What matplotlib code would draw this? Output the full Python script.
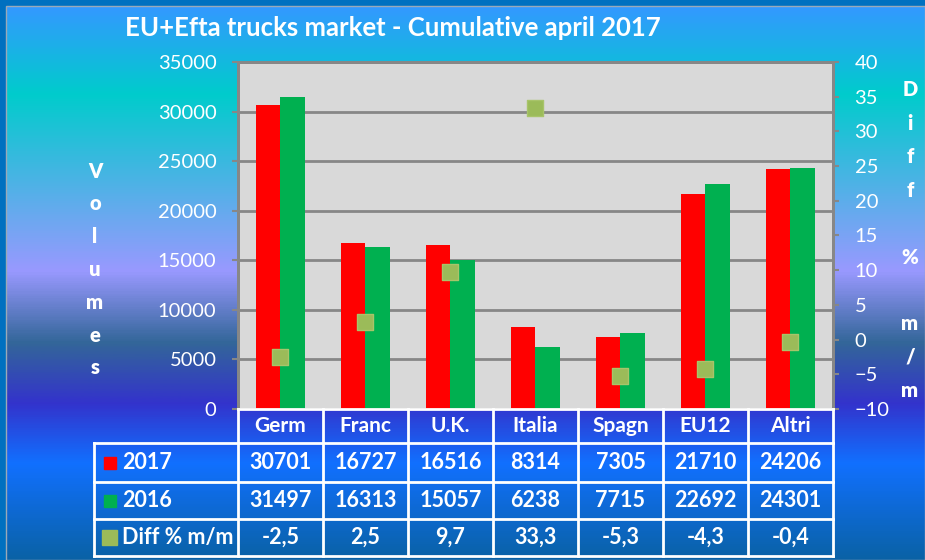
import numpy as np
import matplotlib.pyplot as plt
from matplotlib.colors import LinearSegmentedColormap
from matplotlib.patches import Rectangle

plt.rcParams['font.family'] = ['Lato', 'DejaVu Sans']

# data
categories = ['Germ', 'Franc', 'U.K.', 'Italia', 'Spagn', 'EU12', 'Altri']
vol_2017 = [30701, 16727, 16516, 8314, 7305, 21710, 24206]
vol_2016 = [31497, 16313, 15057, 6238, 7715, 22692, 24301]
diff_pct = [-2.5, 2.5, 9.7, 33.3, -5.3, -4.3, -0.4]
diff_labels = ['-2,5', '2,5', '9,7', '33,3', '-5,3', '-4,3', '-0,4']
row_names = ['2017', '2016', 'Diff % m/m']
row_colors = ['#ff0000', '#00b050', '#9bbb59']

W, H = 925, 560
fig = plt.figure(figsize=(W / 100, H / 100), dpi=100)
fig.patch.set_facecolor('#0070c0')

# gradient background
top = 6
stops = [(6, '#3399ff'), (93, '#00cccc'), (271, '#9999ff'), (343, '#336699'),
         (404, '#3333cc'), (464, '#1170ff'), (560, '#0a62a6')]
cmap = LinearSegmentedColormap.from_list(
    'bg', [((y - top) / (H - top), c) for y, c in stops])
bg = fig.add_axes([top / W, 0, 1 - top / W, 1 - top / H], zorder=-10)
bg.imshow(np.linspace(0, 1, 600).reshape(-1, 1), aspect='auto', cmap=cmap,
          extent=[0, 1, 0, 1])
bg.axis('off')
fig.add_artist(Rectangle((top / W, 0), 1 - top / W, 1 - top / H, transform=fig.transFigure,
                         fill=False, edgecolor='#9aa9b8', lw=1, zorder=-5))

# main chart
L, R, T, B = 238, 833, 62, 409
ax = fig.add_axes([L / W, 1 - B / H, (R - L) / W, (B - T) / H])
ax.set_facecolor('#d9d9d9')
x = np.arange(len(categories))
w = 0.29
ax.bar(x - w / 2, vol_2017, w, color='#ff0000', zorder=2)
ax.bar(x + w / 2, vol_2016, w, color='#00b050', zorder=2)
ax.set_xlim(-0.5, len(categories) - 0.5)
ax.set_ylim(0, 35000)
ax.set_yticks(range(0, 35001, 5000))
ax.set_xticks([])
ax.grid(axis='y', color='#878787', lw=2)
ax.set_axisbelow(True)
ax.tick_params(axis='y', color='#878787', labelcolor='white', length=4.5, width=1.5,
               labelsize=14.5, pad=11)
for s in ['left', 'right', 'top']:
    ax.spines[s].set_color('#878787')
    ax.spines[s].set_linewidth(2)
ax.spines['bottom'].set_visible(False)

ax2 = ax.twinx()
ax2.scatter(x, diff_pct, marker='s', s=120, color='#9bbb59', edgecolor='#a8c46a', zorder=3)
ax2.set_ylim(-10, 40)
ax2.set_yticks(range(-10, 41, 5))
ax2.tick_params(axis='y', color='#878787', labelcolor='white', length=4.5, width=1.5,
                labelsize=14.5, pad=11)
for s in ['left', 'right', 'top']:
    ax2.spines[s].set_color('#878787')
    ax2.spines[s].set_linewidth(2)
ax2.spines['bottom'].set_visible(False)

fig.text(393 / W, 1 - 28 / H, 'EU+Efta trucks market - Cumulative april 2017',
         ha='center', va='center', fontsize=18.5, fontweight='bold', color='white')

# overlay in pixel coordinates for table and stacked axis titles
ov = fig.add_axes([0, 0, 1, 1], zorder=5)
ov.set_xlim(0, W)
ov.set_ylim(H, 0)
ov.axis('off')
ov.patch.set_alpha(0)

for i, ch in enumerate('Volumes'):
    ov.text(95, 171 + 32.8 * i, ch, ha='center', va='center', color='white',
            fontsize=14.5, fontweight='heavy')
for i, ch in enumerate('Diff % m/m'):
    if ch != ' ':
        ov.text(910, 90 + 33.4 * i, ch, ha='center', va='center', color='white',
                fontsize=14.5, fontweight='heavy')

# table
col_w = (R - L) / len(categories)
col_x = [L + col_w * k for k in range(len(categories) + 1)]
row_y = [409, 443, 482, 519, 556]
lab_x = 94
lc = 'white'
ov.plot([L, R], [row_y[0], row_y[0]], color=lc, lw=2)
for y in row_y[1:]:
    ov.plot([lab_x, R], [y, y], color=lc, lw=2)
for cx in col_x:
    ov.plot([cx, cx], [row_y[0], row_y[-1]], color=lc, lw=2)
ov.plot([lab_x, lab_x], [row_y[1], row_y[-1]], color=lc, lw=2)

for k, cat in enumerate(categories):
    cx = (col_x[k] + col_x[k + 1]) / 2
    ov.text(cx, (row_y[0] + row_y[1]) / 2, cat, ha='center', va='center',
            color='white', fontsize=15, fontweight='bold')
    for r, val in enumerate([str(vol_2017[k]), str(vol_2016[k]), diff_labels[k]]):
        ov.text(cx, (row_y[r + 1] + row_y[r + 2]) / 2, val, ha='center', va='center',
                color='white', fontsize=15.5, fontweight='bold')

for r, (name, col) in enumerate(zip(row_names, row_colors)):
    cy = (row_y[r + 1] + row_y[r + 2]) / 2
    sz = 15 if r == 2 else 12
    ov.add_patch(Rectangle((109.5 - sz / 2, cy - sz / 2), sz, sz, color=col))
    ov.text(122, cy, name, ha='left', va='center', color='white',
            fontsize=15.5, fontweight='bold')

fig.savefig('out.png', dpi=100)
